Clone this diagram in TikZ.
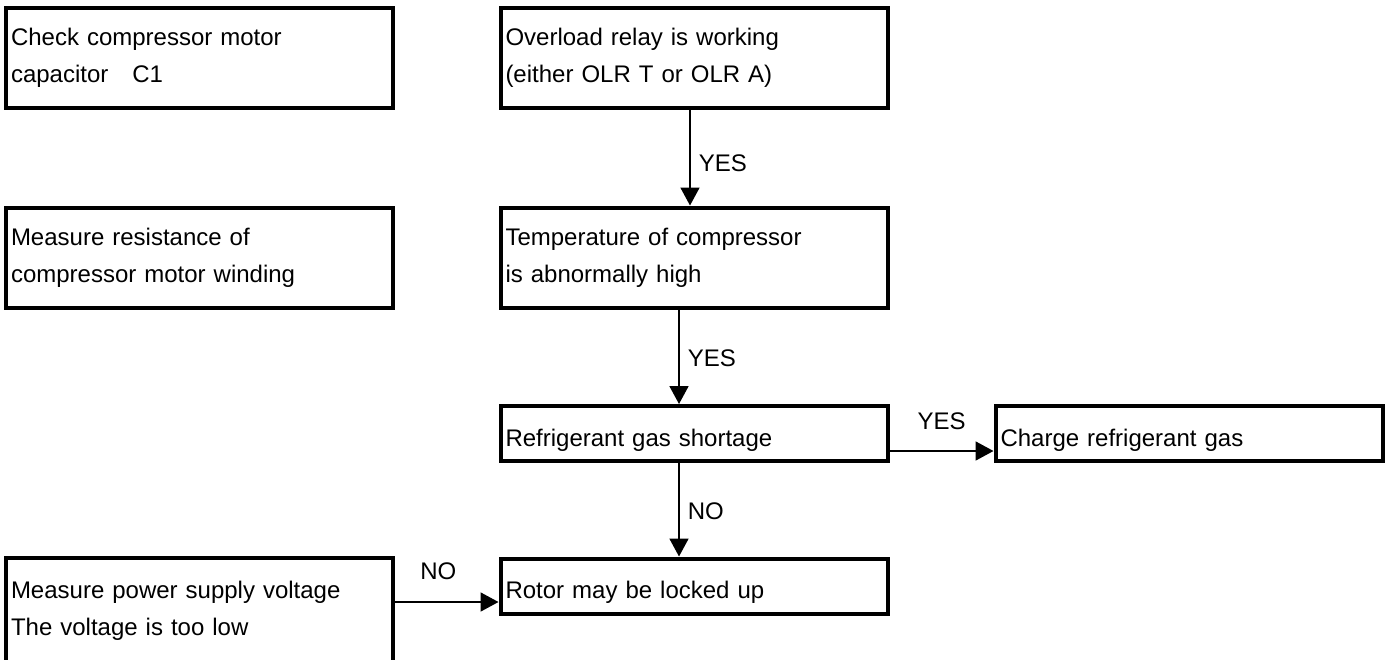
\documentclass[tikz,border=0pt]{standalone}
\usepackage{fontspec}
\setmainfont{Liberation Sans}
\usetikzlibrary{arrows.meta}

\begin{document}
\begin{tikzpicture}[x=0.5pt,y=-0.5pt,
  box/.style={draw, line width=2pt, inner xsep=2.5pt, inner ysep=0pt, text width=188.5pt, align=left, minimum height=#1, font=\fontsize{12}{18.5}\selectfont},
  box/.default=50pt,
  onebox/.style={box=27.5pt, text height=15pt, text depth=2.5pt},
  flow/.style={-{Triangle[length=9pt,width=9.5pt]}, line width=0.9pt},
  lbl/.style={font=\fontsize{12}{14}\selectfont}]
\useasboundingbox (0,0) rectangle (1391,659);
\node[box] (cap) at (199.5,58) {Check compressor motor\\capacitor\ \ \ C1};
\node[box] (relay) at (694,58) {Overload relay is working\\(either OLR T or OLR A)};
\node[box] (wind) at (199.5,257.5) {Measure resistance of\\compressor motor winding};
\node[box] (temp) at (694,257.5) {Temperature of compressor\\is abnormally high};
\node[onebox] (gas) at (694,433.5) {Refrigerant gas shortage};
\node[onebox] (charge) at (1189,433.5) {Charge refrigerant gas};
\node[onebox] (rotor) at (694,586) {Rotor may be locked up};
\node[box=53pt, draw=none, outer sep=0pt] (power) at (199.5,611) {Measure power supply voltage\\The voltage is too low};
\draw[line width=2pt] (power.south west) -- (power.north west) -- (power.north east) -- (power.south east);
\draw[flow] ([xshift=-2pt]relay.south) -- node[lbl, right, pos=.56, inner xsep=4pt] {YES} ([xshift=-2pt]temp.north);
\draw[flow] ([xshift=-7.5pt]temp.south) -- node[lbl, right, pos=.52, inner xsep=4pt] {YES} ([xshift=-7.5pt]gas.north);
\draw[flow] ([xshift=-7.5pt]gas.south) -- node[lbl, right, pos=.52, inner xsep=4pt] {NO} ([xshift=-7.5pt]rotor.north);
\draw[flow] ([yshift=-8.75pt]gas.east) -- node[lbl, above=7pt] {YES} ([yshift=-8.75pt]charge.west);
\draw[flow] ([yshift=4.5pt]power.east) -- node[lbl, above=7.5pt, pos=.43] {NO} ([yshift=-8pt]rotor.west);
\end{tikzpicture}
\end{document}
